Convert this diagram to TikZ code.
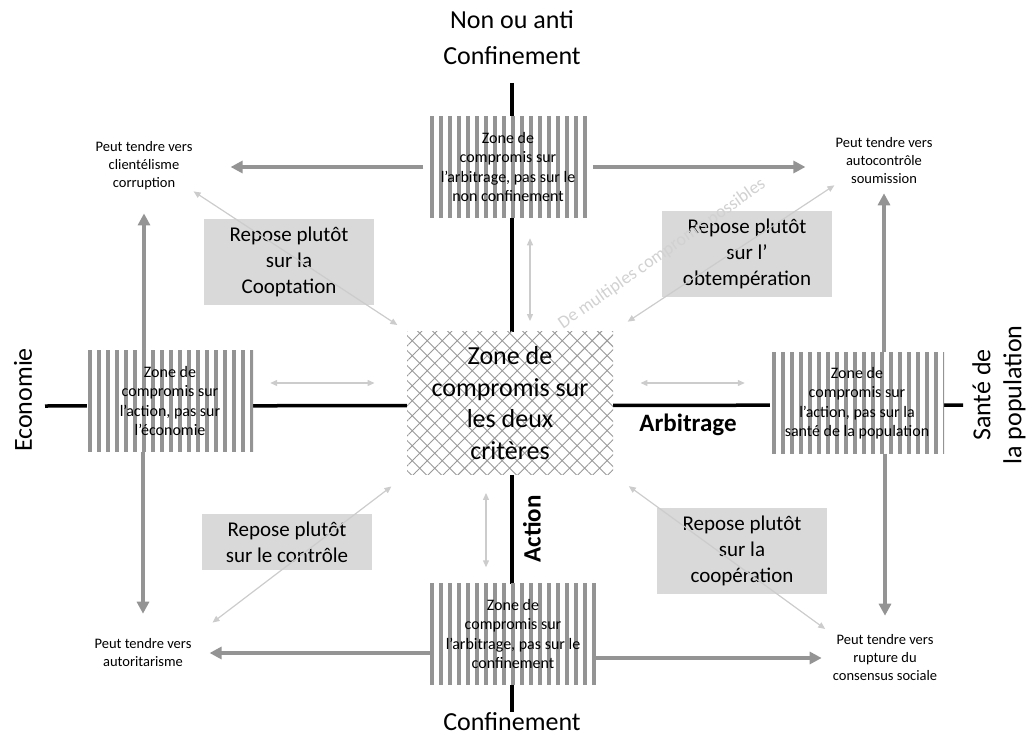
\documentclass[tikz,border=0pt]{standalone}
\usepackage{fontspec}
\setmainfont{Carlito}
\usepackage{tikz}
\usetikzlibrary{arrows.meta,patterns.meta}
\tikzstyle{axe} = [draw,line width=3.5pt]
\tikzstyle{fleche} = [draw,line width=4pt,color=black!42,arrows={-Triangle[length=12pt,width=12pt]}]
\tikzstyle{lien} = [draw,line width=1.2pt,color=black!20,arrows={Triangle[length=7pt,width=6pt]-Triangle[length=7pt,width=6pt]}]
\tikzstyle{zone} = [inner sep=0,minimum width=166pt,minimum height=101pt,align=center,font=\fontsize{16}{19.5}\selectfont,preaction={fill=white},pattern={Lines[angle=90,distance=9pt,line width=3.5pt]},pattern color=black!42]
\tikzstyle{centre} = [inner sep=0,minimum width=206pt,minimum height=143pt,align=center,font=\fontsize{26}{31.5}\selectfont,preaction={fill=white},preaction={pattern={Lines[angle=45,distance=10.6pt,line width=0.9pt]},pattern color=black!40},pattern={Lines[angle=-45,distance=10.6pt,line width=0.9pt]},pattern color=black!40]

\begin{document}
\begin{tikzpicture}[x=1pt,y=-1pt,
  repose/.style={fill=black!15,inner xsep=0,inner ysep=8pt,minimum width=170pt,align=center,font=\fontsize{21}{26}\selectfont},
  tendre/.style={align=center,font=\fontsize{14.5}{18}\selectfont,inner sep=1pt},
  titre/.style={align=center,inner sep=0,font=\fontsize{26}{36}\selectfont},
  gras/.style={font=\fontsize{25}{30}\selectfont\bfseries}]
    \useasboundingbox (0,0) rectangle (1030,738);

    \coordinate (axN) at (512,83);
    \coordinate (axS) at (512,712);
    \coordinate (axW) at (45,406);
    \coordinate (axE) at (963,405);
    \draw[axe] (axN) -- (axS);
    \draw[axe] (axW) -- (axE);

    \node[titre] (nonconf) at (512,38) {Non ou anti\\Confinement};
    \node[titre] (conf) at (512,722) {Confinement};
    \node[titre,rotate=90] (eco) at (23,400) {Economie};
    \node[titre,rotate=90,font=\fontsize{26}{31}\selectfont] (sante) at (999,395) {Santé de\\la population};
    \node[gras] (arb) at (688,425) {Arbitrage};
    \node[gras,rotate=90] (act) at (532,529) {Action};

    \node[zone] (ztop) at (508,167) {Zone de\\compromis sur\\l’arbitrage, pas sur le\\non confinement};
    \node[zone] (zleft) at (170,401) {Zone de\\compromis sur\\l’action, pas sur\\l’économie};
    \node[zone,minimum width=174pt] (zright) at (857,403) {Zone de\\compromis sur\\l’action, pas sur la\\santé de la population};
    \node[zone] (zbot) at (513,634) {Zone de\\compromis sur\\l’arbitrage, pas sur le\\confinement};
    \node[centre] (zcenter) at (510,403) {Zone de\\compromis sur\\les deux\\critères};

    \node[tendre] (tl) at (144,166) {Peut tendre vers\\clientélisme\\corruption};
    \node[tendre] (tr) at (884,161) {Peut tendre vers\\autocontrôle\\soumission};
    \node[tendre] (bl) at (143,653) {Peut tendre vers\\autoritarisme};
    \node[tendre] (br) at (885,658) {Peut tendre vers\\rupture du\\consensus sociale};

    \node[repose] (rtl) at (289,262) {Repose plutôt\\sur la\\Cooptation};
    \node[repose] (rtr) at (747,254) {Repose plutôt\\sur l’\\obtempération};
    \node[repose] (rbl) at (287,542) {Repose plutôt\\sur le contrôle};
    \node[repose] (rbr) at (742,551) {Repose plutôt\\sur la\\coopération};

    \draw[fleche,shorten >=37pt] (ztop.west) -- (ztop.west -| tl.east);
    \draw[fleche,shorten >=29pt] (ztop.east) -- (ztop.east -| tr.west);
    \draw[fleche,shorten >=22pt] (zleft.north -| tl.south) -- (tl.south);
    \draw[fleche,shorten >=24pt] (zleft.south -| bl.north) -- (bl.north);
    \draw[fleche,shorten >=17pt] (zbot.west |- bl.east) -- (bl.east);
    \draw[fleche,shorten >=10pt] (zbot.east |- br.west) -- (br.west);
    \draw[fleche,shorten >=18pt] (zright.south -| br.north) -- (br.north);
    \draw[fleche,shorten >=8pt] (zright.north -| tr.south) -- (tr.south);

    \draw[lien,shorten <=11pt] (zcenter.north west) -- (tl.south east);
    \draw[lien,shorten <=17pt] (zcenter.north east) -- (tr.south west);
    \draw[lien,shorten <=19pt,shorten >=25pt] (zcenter.south west) -- (bl.north east);
    \draw[lien,shorten <=19pt,shorten >=8pt] (zcenter.south east) -- (br.north west);
    \draw[lien,shorten <=17pt,shorten >=32pt] ([yshift=18pt]zleft.east) -- ([yshift=18pt]zleft.east -| zcenter.west);
    \draw[lien,shorten <=27pt,shorten >=25pt] ([yshift=20pt]zcenter.east) -- ([yshift=20pt]zcenter.east -| zright.west);
    \draw[lien,shorten <=19pt,shorten >=10pt] ([xshift=22pt]ztop.south) -- ([xshift=22pt]ztop.south |- zcenter.north);
    \draw[lien,shorten <=18pt,shorten >=16pt] ([xshift=-27pt]zbot.north |- zcenter.south) -- ([xshift=-27pt]zbot.north);

    \node[rotate=35,text=black!18,font=\fontsize{18}{22}\selectfont] (multi) at (662,254) {De multiples compromis possibles};
\end{tikzpicture}
\end{document}
